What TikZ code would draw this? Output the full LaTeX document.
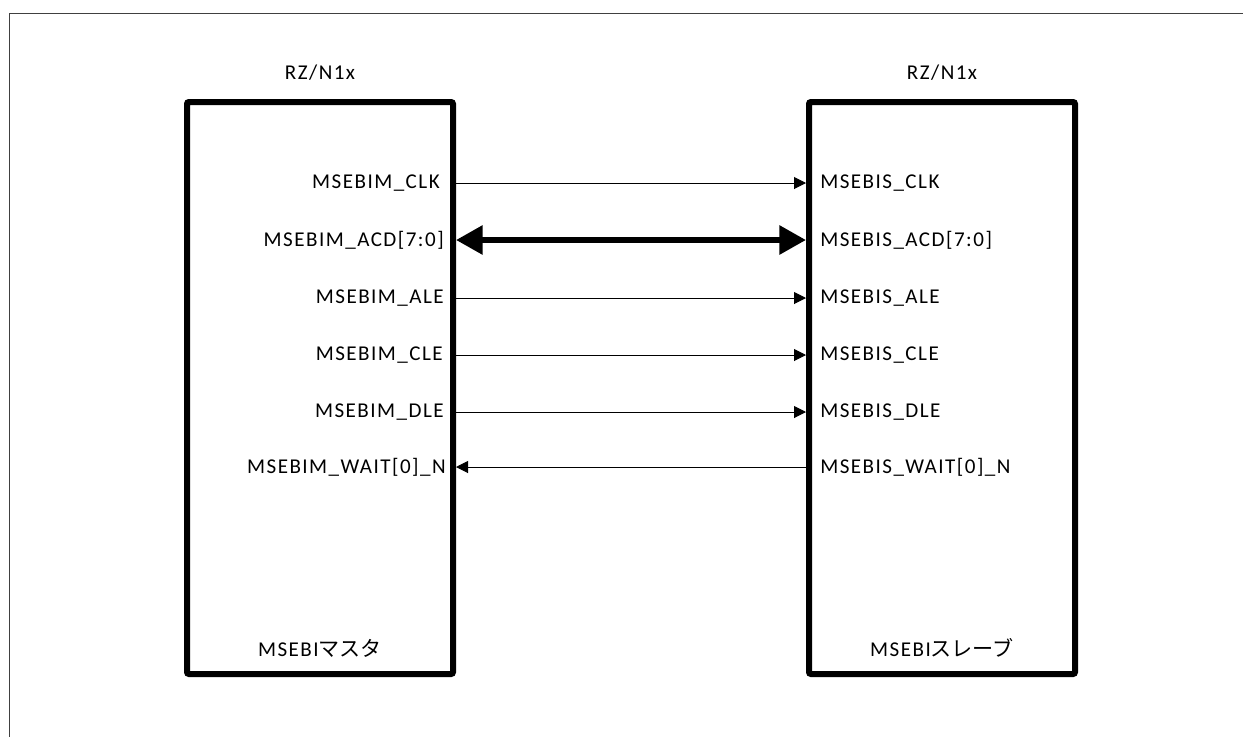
\documentclass[tikz,border=0pt]{standalone}
\usepackage{fontspec}
\setmainfont{Carlito}[LetterSpace=7]
\newfontfamily\cjk{Noto Sans CJK JP}
\usetikzlibrary{arrows.meta}
\begin{document}
\begin{tikzpicture}[x=0.75pt,y=-0.75pt,
  chip/.style={draw, line width=4.5pt, rounded corners=1.5pt, minimum width=199.5pt, minimum height=429pt, inner sep=0pt},
  lbl/.style={font=\fontsize{15.8}{18}\selectfont, inner sep=0pt},
  sig/.style={line width=0.75pt, -{Triangle[length=9pt,width=9pt]}},
  bus/.style={line width=4.5pt, {Triangle[length=20pt,width=21pt]}-{Triangle[length=20pt,width=21pt]}}]
\useasboundingbox (0,0) rectangle (1243,736);
\draw[line width=0.75pt, black!75] (9,760) -- (9,13) -- (1260,13);
\node[chip] (M) at (320,388) {};
\node[chip] (S) at (942,388) {};
\node[lbl] (mt) at (320,73) {RZ/N1x};
\node[lbl] (st) at (942,73) {RZ/N1x};
\node[lbl] (mb) at (320,648) {MSEBI{\cjk マスタ}};
\node[lbl] (sb) at (942,648) {MSEBI{\cjk スレーブ}};
% master side labels
\node[lbl, anchor=east] (m1) at (440,183) {MSEBIM\_CLK};
\node[lbl, anchor=east] (m2) at (444,240) {MSEBIM\_ACD[7:0]};
\node[lbl, anchor=east] (m3) at (444,298) {MSEBIM\_ALE};
\node[lbl, anchor=east] (m4) at (443,355) {MSEBIM\_CLE};
\node[lbl, anchor=east] (m5) at (444,412) {MSEBIM\_DLE};
\node[lbl, anchor=east] (m6) at (446,467) {MSEBIM\_WAIT[0]\_N};
% slave side labels
\node[lbl, anchor=west] (s1) at (820,183) {MSEBIS\_CLK};
\node[lbl, anchor=west] (s2) at (820,240) {MSEBIS\_ACD[7:0]};
\node[lbl, anchor=west] (s3) at (820,298) {MSEBIS\_ALE};
\node[lbl, anchor=west] (s4) at (820,355) {MSEBIS\_CLE};
\node[lbl, anchor=west] (s5) at (820,412) {MSEBIS\_DLE};
\node[lbl, anchor=west] (s6) at (820,467) {MSEBIS\_WAIT[0]\_N};
% connectors
\draw[sig] (M.east |- m1) -- (S.west |- s1);
\draw[bus] (M.east |- m2) -- (S.west |- s2);
\draw[sig] (M.east |- m3) -- (S.west |- s3);
\draw[sig] (M.east |- m4) -- (S.west |- s4);
\draw[sig] (M.east |- m5) -- (S.west |- s5);
\draw[sig] (S.west |- s6) -- (M.east |- m6);
\end{tikzpicture}
\end{document}
